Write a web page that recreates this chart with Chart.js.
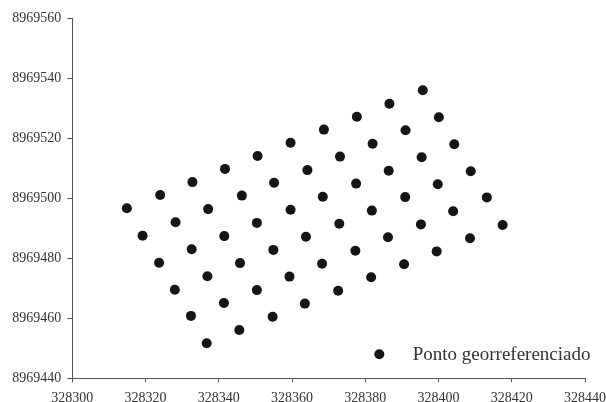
<!DOCTYPE html>
<html>
<head>
<meta charset="utf-8">
<script src="https://cdn.jsdelivr.net/npm/chart.js@4/dist/chart.umd.min.js"></script>
<style>
html,body{margin:0;padding:0;background:#fff;}
#wrap{width:606px;height:402px;position:relative;}
</style>
</head>
<body>
<div id="wrap"><canvas id="c"></canvas></div>
<script>
const seriesLabel = "Ponto georreferenciado";
const eastings = [
 328314.9,328337.1,328359.6,328328.2,328350.4,328319.2,328341.5,328332.6,328354.9,328323.7,
 328345.8,328336.9,328359.3,328328.0,328350.4,328341.4,328332.4,328354.7,328345.6,328336.7,
 328324.0,328332.8,328341.7,328350.6,328359.6,328346.3,328355.1,
 328395.7,328386.6,328377.7,328368.7,328400.1,328391.0,328382.0,328373.1,328404.3,328395.4,
 328386.4,328364.2,328408.8,328377.5,328399.8,328368.4,328390.9,328413.2,
 328381.8,328404.0,328372.9,328395.2,328417.5,328363.8,328386.2,328408.6,328377.3,328399.5,
 328368.2,328390.6,328381.6,328372.6,328363.5
];
const northings = [
 8969496.7,8969496.4,8969496.2,8969492.0,8969491.8,8969487.5,8969487.4,8969483.0,8969482.8,8969478.5,
 8969478.4,8969474.0,8969473.9,8969469.5,8969469.4,8969465.1,8969460.8,8969460.5,8969456.1,8969451.7,
 8969501.1,8969505.4,8969509.8,8969514.1,8969518.5,8969500.9,8969505.2,
 8969536.0,8969531.5,8969527.2,8969522.9,8969527.0,8969522.7,8969518.2,8969513.9,8969518.0,8969513.7,
 8969509.2,8969509.4,8969509.0,8969504.9,8969504.7,8969500.5,8969500.4,8969500.3,
 8969495.9,8969495.7,8969491.5,8969491.3,8969491.1,8969487.2,8969487.0,8969486.7,8969482.5,8969482.3,
 8969478.2,8969478.0,8969473.7,8969469.2,8969464.9
];
const xTicks = [328300,328320,328340,328360,328380,328400,328420,328440];
const yTicks = [8969440,8969460,8969480,8969500,8969520,8969540,8969560];

const points = eastings.map((x,i)=>({x:x,y:northings[i]}));
const FONT = "'Liberation Serif','Times New Roman',serif";
const AXIS = '#555555';
const TXT = '#333333';
const DOT = '#151515';

const legendPlugin = {
  id:'customLegend',
  afterDraw(chart){
    const ctx = chart.ctx, a = chart.chartArea;
    const ds = chart.data.datasets[0];
    ctx.save();
    const cx = a.right - 205.7, cy = a.bottom - 24;
    ctx.beginPath();
    ctx.arc(cx, cy, 5, 0, Math.PI*2);
    ctx.fillStyle = DOT;
    ctx.fill();
    ctx.font = "19px " + FONT;
    ctx.fillStyle = TXT;
    ctx.textBaseline = 'alphabetic';
    ctx.textAlign = 'left';
    ctx.fillText(ds.label, a.right - 172.3, a.bottom - 18.3);
    ctx.restore();
  }
};

function zeroPad(s){ s.paddingLeft = 0; s.paddingRight = 0; s.paddingTop = 0; s.paddingBottom = 0; }

new Chart(document.getElementById('c'), {
  type:'scatter',
  data:{datasets:[{
    label: seriesLabel,
    data: points,
    backgroundColor: DOT,
    borderColor: DOT,
    pointRadius: 5,
    pointHoverRadius: 5,
    borderWidth: 0
  }]},
  options:{
    responsive:true,
    maintainAspectRatio:false,
    animation:false,
    layout:{padding:{top:18.3,right:21,left:0,bottom:0}},
    plugins:{legend:{display:false},tooltip:{enabled:false}},
    scales:{
      x:{
        type:'linear',
        min:xTicks[0], max:xTicks[xTicks.length-1],
        afterBuildTicks(s){ s.ticks = xTicks.map(v=>({value:v})); },
        afterFit(s){ s.height = 23.7; zeroPad(s); },
        ticks:{color:TXT,font:{family:FONT,size:14},padding:8,maxRotation:0,callback:v=>String(v)},
        grid:{display:true,drawOnChartArea:false,drawTicks:true,tickLength:4,color:AXIS},
        border:{display:true,color:AXIS,width:1}
      },
      y:{
        type:'linear',
        min:yTicks[0], max:yTicks[yTicks.length-1],
        afterBuildTicks(s){ s.ticks = yTicks.map(v=>({value:v})); },
        afterFit(s){ s.width = 72.3; zeroPad(s); },
        ticks:{color:TXT,font:{family:FONT,size:14},padding:6,callback:v=>String(v)},
        grid:{display:true,drawOnChartArea:false,drawTicks:true,tickLength:5,color:AXIS},
        border:{display:true,color:AXIS,width:1}
      }
    }
  },
  plugins:[legendPlugin]
});
</script>
</body>
</html>
